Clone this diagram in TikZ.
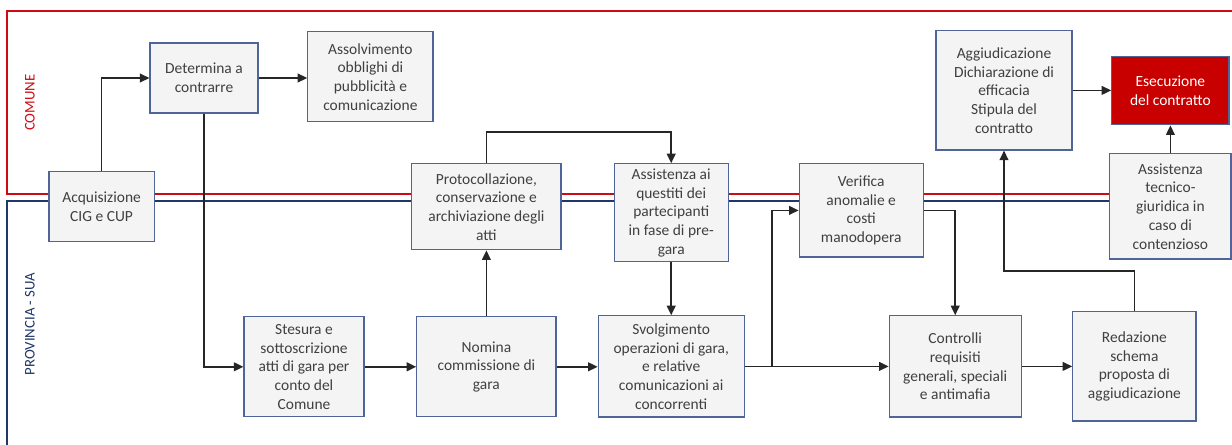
\documentclass[tikz,border=0pt]{standalone}
\usepackage{fontspec}
\setmainfont{Carlito}
\usetikzlibrary{arrows.meta}
\definecolor{boxline}{HTML}{4F6497}
\definecolor{boxfill}{HTML}{F4F4F4}
\definecolor{comred}{HTML}{D00A14}
\definecolor{suablue}{HTML}{1F3868}
\definecolor{esefill}{HTML}{C80000}
\definecolor{txtgray}{HTML}{404040}
\begin{document}
\begin{tikzpicture}[
	box/.style={draw=boxline,fill=boxfill,line width=0.8pt,inner sep=1pt,align=center,
		text=txtgray,font=\fontsize{11}{13.3}\selectfont},
	arr/.style={-{Triangle[length=2.4mm,width=2.2mm]},line width=1.1pt,black!85}]
		\useasboundingbox (0,0) rectangle (30.8,11.1);
		
		\draw[comred,line width=2pt] (31,10.825) -- (0.175,10.825) -- (0.175,6.25) -- (31,6.25);
		\draw[suablue,line width=2pt] (31,6.075) -- (0.175,6.075) -- (0.175,-0.2);
		\node[rotate=90,comred,font=\fontsize{10.5}{12}\selectfont] (lcom) at (0.75,8.53) {COMUNE};
		\node[rotate=90,suablue,font=\fontsize{10.5}{12}\selectfont] (lsua) at (0.75,3.0) {PROVINCIA - SUA};
		
		\node[box,minimum width=2.63cm,minimum height=1.75cm] (acq) at (2.54,5.93) {Acquisizione\\CIG e CUP};
		\node[box,minimum width=2.7cm,minimum height=1.75cm] (det) at (5.1,9.15) {Determina a\\contrarre};
		\node[box,minimum width=3.13cm,minimum height=2.25cm] (ass) at (9.26,9.18) {Assolvimento\\obblighi di\\pubblicità e\\comunicazione};
		\node[box,minimum width=3.73cm,minimum height=2.15cm] (prot) at (12.16,5.93) {Protocollazione,\\conservazione e\\archiviazione degli\\atti};
		\node[box,minimum width=2.85cm,minimum height=2.45cm] (ques) at (16.78,5.78) {Assistenza ai\\questiti dei\\partecipanti\\in fase di pre-\\gara};
		\node[box,minimum width=3.1cm,minimum height=2.33cm] (ver) at (21.53,5.84) {Verifica\\anomalie e\\costi\\manodopera};
		\node[box,minimum width=3.4cm,minimum height=2.98cm] (agg) at (25.1,8.84) {Aggiudicazione\\Dichiarazione di\\efficacia\\Stipula del\\contratto};
		\node[box,fill=esefill,text=white,minimum width=2.93cm,minimum height=1.7cm] (ese) at (29.26,8.83) {Esecuzione\\del contratto};
		\node[box,minimum width=3.03cm,minimum height=2.63cm] (tec) at (29.26,5.94) {Assistenza\\tecnico-\\giuridica in\\caso di\\contenzioso};
		\node[box,minimum width=3.0cm,minimum height=2.5cm] (ste) at (7.6,1.93) {Stesura e\\sottoscrizione\\atti di gara per\\conto del\\Comune};
		\node[box,minimum width=3.48cm,minimum height=2.5cm] (nom) at (12.16,1.93) {Nomina\\commissione di\\gara};
		\node[box,minimum width=3.65cm,minimum height=2.53cm] (svo) at (16.78,1.94) {Svolgimento\\operazioni di gara,\\e relative\\comunicazioni ai\\concorrenti};
		\node[box,minimum width=3.3cm,minimum height=2.53cm] (con) at (23.88,1.94) {Controlli\\requisiti\\generali, speciali\\e antimafia};
		\node[box,minimum width=3.08cm,minimum height=2.73cm] (red) at (28.36,1.94) {Redazione\\schema\\proposta di\\aggiudicazione};
		
		\draw[arr] (acq) |- (det);
		\draw[arr] (det.east) -- (det.east -| ass.west);
		\draw[arr] (det) |- (ste);
		\draw[arr] (ste) -- (nom);
		\draw[arr] (nom.east) -- (nom.east -| svo.west);
		\draw[arr] (nom) -- (prot);
		\draw[arr] (prot.north) -- ++(0,0.78) -| (ques.north);
		\draw[arr] (ques) -- (svo);
		\draw[arr] (svo.east) -- ++(0.68,0) |- (ver.west);
		\draw[arr] (svo) -- (con);
		\draw[arr] (ver) -| (con);
		\draw[arr] (con) -- (red);
		\draw[arr] (red.north) -- ++(0,1.0) -| (agg.south);
		\draw[arr] (agg.east) -- (agg.east -| ese.west);
		\draw[arr] (tec) -- (ese);
	\end{tikzpicture}
\end{document}
